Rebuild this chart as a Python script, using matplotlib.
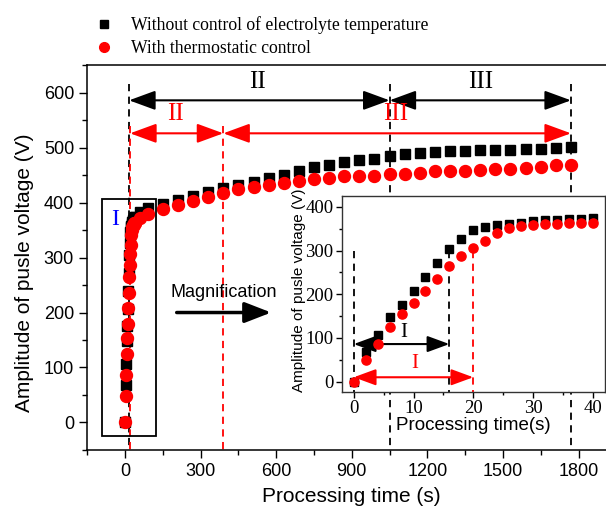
import matplotlib
matplotlib.use("Agg")
import matplotlib.pyplot as plt
from matplotlib.patches import Rectangle
from matplotlib.ticker import MultipleLocator
from matplotlib.lines import Line2D

# processing time (s) and pulse voltage amplitude (V)
t_early = [0, 2, 4, 6, 8, 10, 12, 14, 16, 18, 20, 22, 24, 26, 28, 30, 32, 34, 36, 38, 40]
black_early = [0, 68, 106, 148, 175, 207, 240, 272, 304, 326, 346, 355, 358, 361, 364,
               367, 369, 371, 372, 373, 374]
red_early = [0, 49, 87, 124, 154, 179, 208, 236, 264, 287, 306, 323, 341, 351, 356,
             358, 360, 360, 362, 362, 362]

t_late = [60, 90, 150, 210, 270, 330, 390, 450, 510, 570, 630, 690, 750, 810, 870, 930,
          990, 1050, 1110, 1170, 1230, 1290, 1350, 1410, 1470, 1530, 1590, 1650, 1710, 1770]
black_late = [382, 390, 398, 405, 412, 419, 426, 432, 438, 444, 451, 458, 464, 469, 474, 477,
              480, 484, 488, 490, 492, 494, 494, 495, 495, 496, 497, 497, 499, 501]
red_late = [372, 380, 388, 395, 402, 410, 418, 424, 428, 432, 436, 440, 443, 445, 448, 449,
            449, 452, 452, 454, 457, 458, 458, 460, 461, 461, 463, 464, 468, 468]

label_black = "Without control of electrolyte temperature"
label_red = "With thermostatic control"

# stage boundaries (s)
black_stage = [16, 1050, 1770]
red_stage = [20, 390, 1770]

t_all = t_early + t_late
black_all = black_early + black_late
red_all = red_early + red_late

sans = "Liberation Sans"
serif = "Liberation Serif"

fig = plt.figure(figsize=(6.06, 5.09), dpi=100)
ax = fig.add_axes([0.144, 0.116, 0.873, 0.756])

ax.plot(t_all, black_all, "s", color="black", ms=7.2, zorder=3)
ax.plot(t_all, red_all, "o", color="red", ms=8.6, zorder=4)

ax.set_xlim(-150, 1950)
ax.set_ylim(-50, 650)
ax.xaxis.set_major_locator(MultipleLocator(300))
ax.xaxis.set_minor_locator(MultipleLocator(150))
ax.yaxis.set_major_locator(MultipleLocator(100))
ax.yaxis.set_minor_locator(MultipleLocator(50))
ax.tick_params(which="major", length=6, width=1, labelsize=13, direction="out")
ax.tick_params(which="minor", length=3.5, width=1, direction="out")
for lab in ax.get_xticklabels() + ax.get_yticklabels():
    lab.set_family(sans)
for sp in ax.spines.values():
    sp.set_linewidth(1.1)

ax.set_xlabel("Processing time (s)", fontsize=15, family=sans, labelpad=5)
ax.set_ylabel("Amplitude of pusle voltage (V)", fontsize=15, family=sans, labelpad=4)
ax.yaxis.set_label_coords(-0.1, 0.46)

# dashed stage lines
for x in black_stage:
    ax.plot([x, x], [615, -50], ls=(0, (4, 3)), color="black", lw=1.3, zorder=2)
for x in red_stage[:2]:
    ax.plot([x, x], [540, -50], ls=(0, (4, 3)), color="red", lw=1.3, zorder=2)

arrow_k = dict(arrowstyle="<|-|>,head_length=0.9,head_width=0.33", color="black", lw=1.5,
               shrinkA=0, shrinkB=0, mutation_scale=18)
arrow_r = dict(arrowstyle="<|-|>,head_length=0.9,head_width=0.33", color="red", lw=1.5,
               shrinkA=0, shrinkB=0, mutation_scale=18)
ax.annotate("", xy=(black_stage[1], 586), xytext=(black_stage[0], 586), arrowprops=arrow_k)
ax.annotate("", xy=(black_stage[2], 586), xytext=(black_stage[1], 586), arrowprops=arrow_k)
ax.annotate("", xy=(red_stage[1], 526), xytext=(red_stage[0], 526), arrowprops=arrow_r)
ax.annotate("", xy=(red_stage[2], 526), xytext=(red_stage[1], 526), arrowprops=arrow_r)

ax.text(525, 619, "II", fontsize=18, family=serif, ha="center", va="center")
ax.text(1410, 619, "III", fontsize=18, family=serif, ha="center", va="center")
ax.text(200, 562, "II", fontsize=18, family=serif, ha="center", va="center", color="red")
ax.text(1075, 562, "III", fontsize=18, family=serif, ha="center", va="center", color="red")

# box around stage I
ax.add_patch(Rectangle((-93, -24), 216, 430, fill=False, ec="black", lw=1.3, zorder=5))
ax.text(-40, 370, "I", fontsize=17, family=serif, color="blue", ha="center", va="center")

ax.text(390, 237, "Magnification", fontsize=13, family=sans, ha="center", va="center")
ax.annotate("", xy=(580, 200), xytext=(205, 200),
            arrowprops=dict(arrowstyle="-|>,head_length=0.9,head_width=0.35", color="black",
                            lw=2.5, shrinkA=0, shrinkB=0, mutation_scale=18))

# legend
handles = [Line2D([], [], ls="none", marker="s", color="black", ms=6),
           Line2D([], [], ls="none", marker="o", color="red", ms=7)]
fig.legend(handles, [label_black, label_red], loc="upper left", bbox_to_anchor=(0.131, 0.999),
           frameon=False, prop={"family": serif, "size": 12.7}, handlelength=1,
           handletextpad=1.03, labelspacing=0.32)

# inset
axi = fig.add_axes([0.564, 0.2305, 0.434, 0.3845])
axi.set_facecolor("white")
axi.plot(t_early, black_early, "s", color="black", ms=5.8, zorder=3)
axi.plot(t_early, red_early, "o", color="red", ms=6.6, zorder=4)
axi.set_xlim(-2, 42)
axi.set_ylim(-23, 425)
axi.xaxis.set_major_locator(MultipleLocator(10))
axi.xaxis.set_minor_locator(MultipleLocator(5))
axi.yaxis.set_major_locator(MultipleLocator(100))
axi.yaxis.set_minor_locator(MultipleLocator(50))
axi.tick_params(which="major", length=4, width=1, labelsize=13.5, direction="out", pad=2)
axi.tick_params(which="minor", length=2.5, width=1, direction="out")
for lab in axi.get_xticklabels() + axi.get_yticklabels():
    lab.set_family(serif)
for sp in axi.spines.values():
    sp.set_linewidth(1)
    sp.set_color("#333333")
axi.set_xlabel("Processing time(s)", fontsize=13.5, family=sans, labelpad=0)
axi.set_ylabel("Amplitude of pusle voltage (V)", fontsize=11, family=sans)
axi.yaxis.set_label_coords(-0.137, 0.52)

for x in [0, 16]:
    axi.plot([x, x], [300, -23], ls=(0, (4, 3)), color="black", lw=1.3, zorder=2)
axi.plot([20, 20], [300, -23], ls=(0, (4, 3)), color="red", lw=1.3, zorder=2)

arrow_ki = dict(arrowstyle="<|-|>,head_length=0.9,head_width=0.33", color="black", lw=1.5,
                shrinkA=0, shrinkB=0, mutation_scale=15)
arrow_ri = dict(arrowstyle="<|-|>,head_length=0.9,head_width=0.33", color="red", lw=1.5,
                shrinkA=0, shrinkB=0, mutation_scale=15)
axi.annotate("", xy=(16, 86), xytext=(0, 86), arrowprops=arrow_ki)
axi.annotate("", xy=(20, 10), xytext=(0, 10), arrowprops=arrow_ri)
axi.text(8.3, 113, "I", fontsize=15, family=serif, ha="center", va="center")
axi.text(10.2, 42, "I", fontsize=15, family=serif, ha="center", va="center", color="red")

fig.savefig("out.png", dpi=100)
